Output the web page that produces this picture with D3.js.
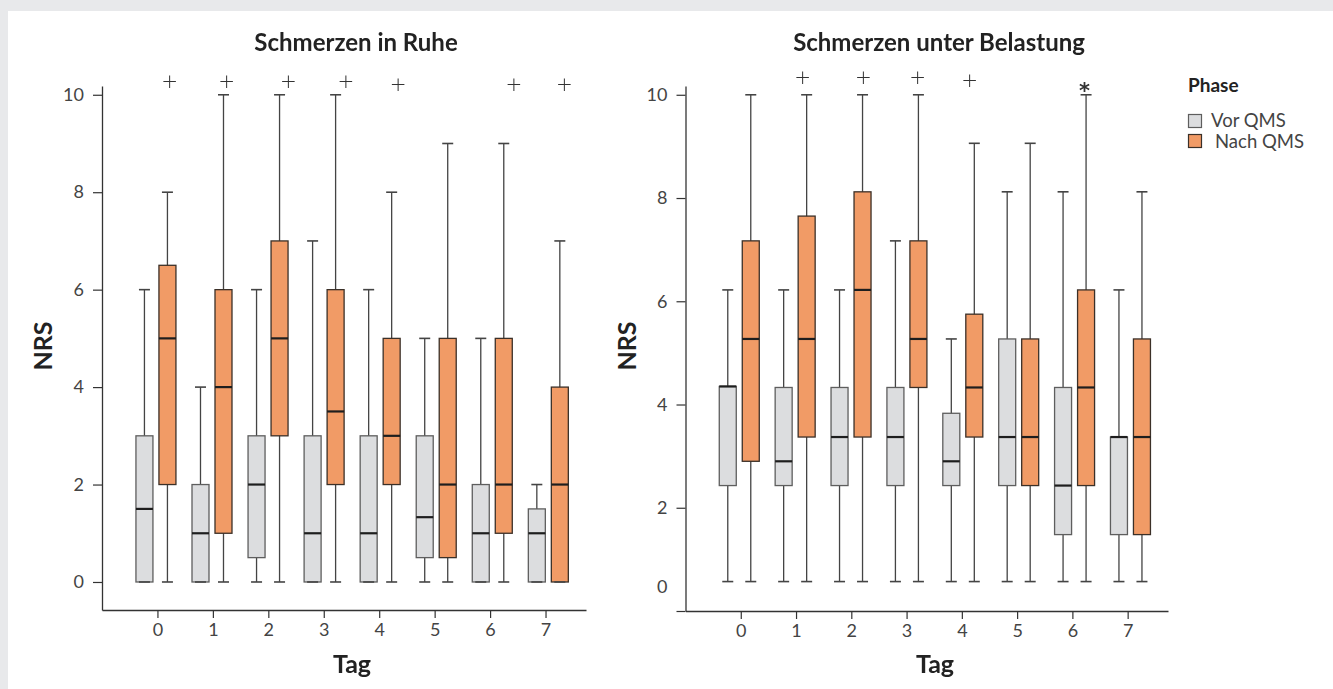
<!DOCTYPE html>
<html>
<head>
<meta charset="utf-8">
<script src="https://cdn.jsdelivr.net/npm/d3@7"></script>
<style>
  body { margin: 0; background: #e8e9eb; }
  svg { display: block; font-family: Lato, "Open Sans", sans-serif; }
  .marks { opacity: 0.999; will-change: transform; }
</style>
</head>
<body>
<svg width="1333" height="689"></svg>
<script>
//Days on the x axis.
var days = [0, 1, 2, 3, 4, 5, 6, 7];
var yTicks = [0, 2, 4, 6, 8, 10];

//Box values per day: [min, q1, median, q3, max].
//Schmerzen in Ruhe
var ruheVor = [[0, 0, 1.5, 3, 6], [0, 0, 1, 2, 4], [0, 0.5, 2, 3, 6], [0, 0, 1, 3, 7],
  [0, 0, 1, 3, 6], [0, 0.5, 1.33, 3, 5], [0, 0, 1, 2, 5], [0, 0, 1, 1.5, 2]];
var ruheNach = [[0, 2, 5, 6.5, 8], [0, 1, 4, 6, 10], [0, 3, 5, 7, 10], [0, 2, 3.5, 6, 10],
  [0, 2, 3, 5, 8], [0, 0.5, 2, 5, 9], [0, 1, 2, 5, 9], [0, 0, 2, 4, 7]];
//Schmerzen unter Belastung (read against the printed axis)
var belastVor = [[0.57, 2.43, 4.35, 4.35, 6.22], [0.57, 2.43, 2.9, 4.33, 6.22], [0.57, 2.43, 3.37, 4.33, 6.22],
  [0.57, 2.43, 3.37, 4.33, 7.17], [0.57, 2.43, 2.9, 3.83, 5.27], [0.57, 2.43, 3.37, 5.27, 8.12],
  [0.57, 1.48, 2.43, 4.33, 8.12], [0.57, 1.48, 3.37, 3.37, 6.22]];
var belastNach = [[0.57, 2.9, 5.27, 7.17, 10], [0.57, 3.37, 5.27, 7.65, 10], [0.57, 3.37, 6.22, 8.12, 10],
  [0.57, 4.33, 5.27, 7.17, 10], [0.57, 3.37, 4.33, 5.75, 9.06], [0.57, 2.43, 3.37, 5.27, 9.06],
  [0.57, 2.43, 4.33, 6.22, 10], [0.57, 1.48, 3.37, 5.27, 8.12]];

//Significance marks above the boxes: day, shift in days, height, symbol.
var ruheMarks = [[0, 0.22, 10.29, "+"], [1, 0.25, 10.29, "+"], [2, 0.36, 10.29, "+"], [3, 0.40, 10.29, "+"],
  [4, 0.34, 10.23, "+"], [6, 0.43, 10.23, "+"], [7, 0.34, 10.23, "+"]];
var belastMarks = [[1, 0.12, 10.34, "+"], [2, 0.22, 10.34, "+"], [3, 0.20, 10.34, "+"],
  [4, 0.14, 10.29, "+"], [6, 0.22, 10.23, "*"]];

var phases = ["Vor QMS", "Nach QMS"];
var colors = ["#dcdddf", "#f19b66"];
var strokes = ["#5e5e5e", "#3b3028"];

var svg = d3.select("svg");

//White page area.
svg.append("rect").attr("x", 8).attr("y", 11).attr("width", 1325).attr("height", 678).attr("fill", "#fff");

function drawPanel(opt) {
  var g = svg.append("g");
  var x = d3.scaleLinear().domain([-1, 7.73]).range(opt.xr);
  //Box pairs drift slightly against the tick positions in the original.
  var bx = d3.scaleLinear().domain([0, 7]).range([x(0) - 1.5, x(7) + 2.8]);
  var y = d3.scaleLinear().domain(opt.yd).range(opt.yr);
  var bw = 18, cap = 11, shift = 11.5;

  var xAxis = g.append("g").attr("transform", "translate(0," + opt.yr[0] + ")")
    .call(d3.axisBottom(x).tickValues(days).tickSize(8).tickPadding(5).tickSizeOuter(0));
  var yAxis = g.append("g").attr("transform", "translate(" + opt.xr[0] + ",0)")
    .call(d3.axisLeft(y).tickValues(yTicks).tickSize(9).tickPadding(9).tickSizeOuter(0));
  [xAxis, yAxis].forEach(a => {
    a.select(".domain").attr("stroke", "#333").attr("stroke-width", 1.3);
    a.selectAll(".tick line").attr("stroke", "#333").attr("stroke-width", 1.2);
    a.selectAll(".tick text").attr("fill", "#444").attr("font-size", 18).attr("font-family", "Lato, sans-serif");
  });
  if (opt.zeroLabelShift) {
    //The printed "0" label sits above its tick in the original.
    yAxis.selectAll(".tick text").filter(d => d === 0).attr("dy", opt.zeroLabelShift);
  }

  [opt.vor, opt.nach].forEach((series, p) => {
    var off = p === 0 ? -shift : shift;
    var boxes = g.append("g").selectAll("g").data(series).enter().append("g");
    boxes.append("line")
      .attr("x1", (d, i) => bx(days[i]) + off).attr("x2", (d, i) => bx(days[i]) + off)
      .attr("y1", d => y(d[0])).attr("y2", d => y(d[4]))
      .attr("stroke", "#444").attr("stroke-width", 1.3);
    boxes.append("rect")
      .attr("x", (d, i) => bx(days[i]) + off - bw / 2 + 0.5)
      .attr("width", bw - 1)
      .attr("y", d => y(d[3]))
      .attr("height", d => y(d[1]) - y(d[3]))
      .attr("fill", colors[p]).attr("stroke", strokes[p]).attr("stroke-width", 1.3);
    [0, 4].forEach(k => {
      boxes.append("line")
        .attr("x1", (d, i) => bx(days[i]) + off - cap / 2).attr("x2", (d, i) => bx(days[i]) + off + cap / 2)
        .attr("y1", d => y(d[k])).attr("y2", d => y(d[k]))
        .attr("stroke", "#444").attr("stroke-width", 1.6);
    });
    boxes.append("line")
      .attr("x1", (d, i) => bx(days[i]) + off - bw / 2 + 0.5).attr("x2", (d, i) => bx(days[i]) + off + bw / 2 - 0.5)
      .attr("y1", d => y(d[2])).attr("y2", d => y(d[2]))
      .attr("stroke", "#1e1e1e").attr("stroke-width", 2.2);
  });

  g.append("g").attr("class", "marks").selectAll("text").data(opt.marks).enter().append("text")
    .attr("x", d => x(d[0] + d[1]))
    .attr("y", d => y(d[2]))
    .attr("dy", d => d[3] === "*" ? "0.72em" : "0.36em")
    .attr("text-anchor", "middle")
    .attr("font-family", "'DejaVu Sans', sans-serif")
    .attr("font-weight", d => d[3] === "*" ? "bold" : 200)
    .attr("font-size", d => d[3] === "*" ? 21 : 20)
    .attr("fill", "#333")
    .text(d => d[3]);

  g.append("text").attr("x", opt.titleX).attr("y", 51).attr("text-anchor", "middle")
    .attr("font-size", 24).attr("font-weight", "bold").attr("fill", "#222").text(opt.title);
  g.append("text").attr("x", opt.tagX).attr("y", 673).attr("text-anchor", "middle")
    .attr("font-size", 25).attr("font-weight", "bold").attr("fill", "#222").text("Tag");
  g.append("text").attr("transform", "translate(" + (opt.xr[0] - 50) + ",346) rotate(-90)")
    .attr("text-anchor", "middle")
    .attr("font-size", 25).attr("font-weight", "bold").attr("fill", "#222").text("NRS");
}

drawPanel({
  title: "Schmerzen in Ruhe", titleX: 356, tagX: 352,
  xr: [102, 586], yd: [-0.575, 10.18], yr: [610, 86],
  vor: ruheVor, nach: ruheNach, marks: ruheMarks
});

drawPanel({
  title: "Schmerzen unter Belastung", titleX: 939, tagX: 935,
  xr: [685.5, 1168], yd: [0, 10.17], yr: [611, 86],
  vor: belastVor, nach: belastNach, marks: belastMarks,
  zeroLabelShift: "-1.05em"
});

//Legend
var legend = svg.append("g").attr("transform", "translate(1188,85)");
legend.append("text").attr("y", 7).attr("font-size", 19).attr("font-weight", "bold").attr("fill", "#222").text("Phase");
phases.forEach((name, i) => {
  legend.append("rect").attr("x", 0.5).attr("y", 29.5 + i * 20).attr("width", 13).attr("height", 13)
    .attr("fill", colors[i]).attr("stroke", strokes[i]).attr("stroke-width", 1.2);
  legend.append("text").attr("x", i === 0 ? 23 : 27).attr("y", 36 + i * 20.5).attr("dy", "0.35em")
    .attr("font-size", 18.5).attr("fill", "#444").text(name);
});
</script>
</body>
</html>
